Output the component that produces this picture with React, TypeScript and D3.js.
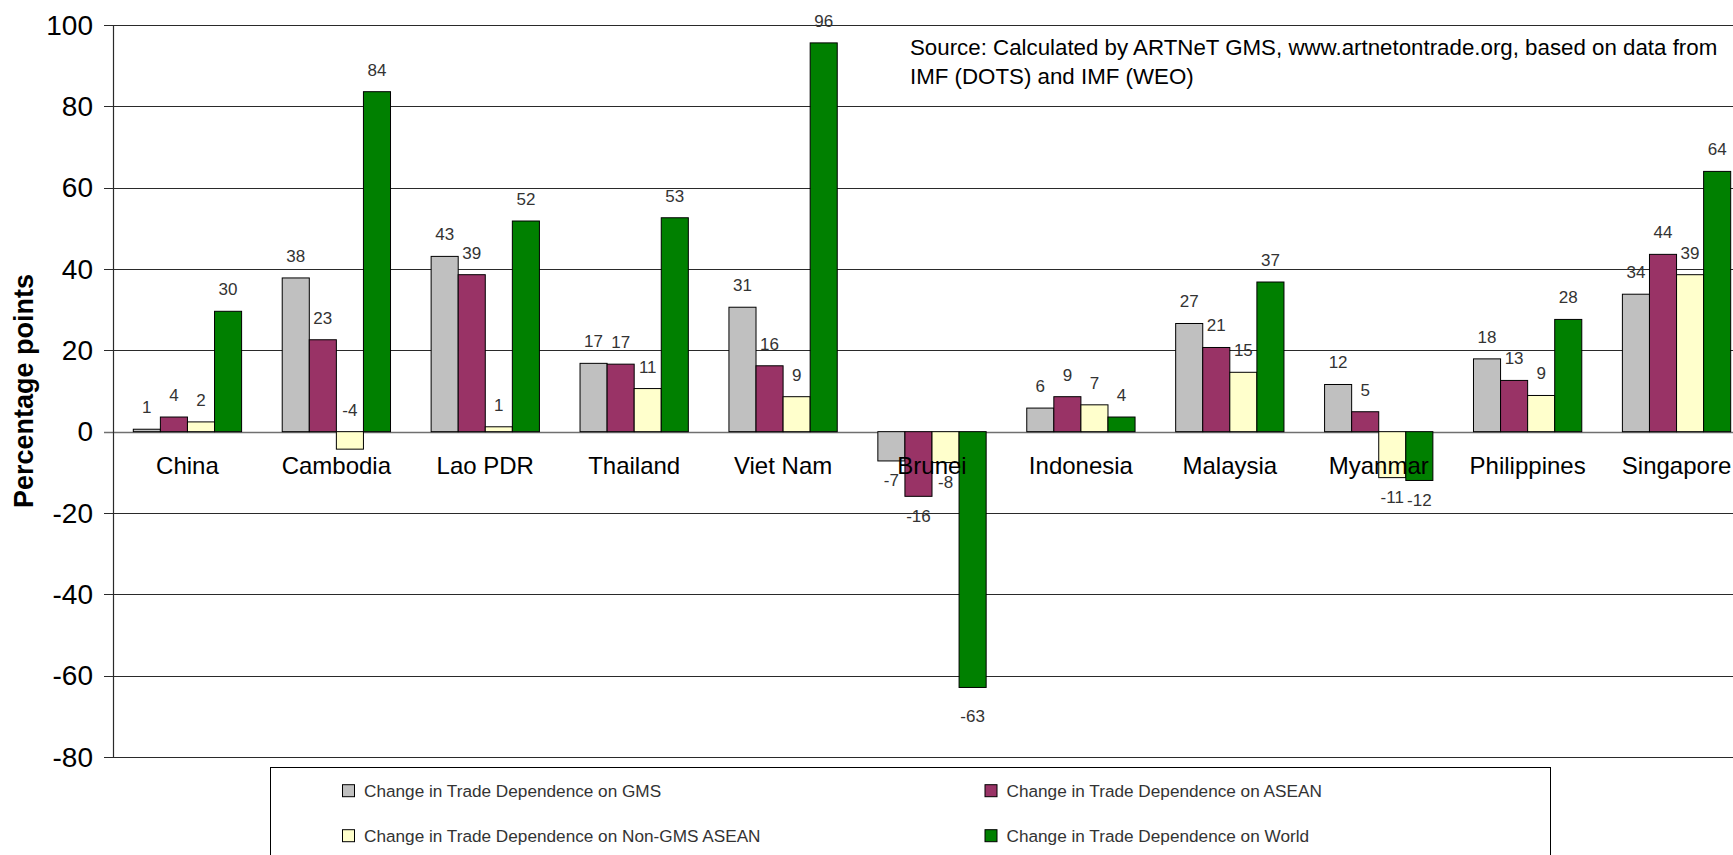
import React from "react";
import * as d3 from "d3";

const categories = ["China", "Cambodia", "Lao PDR", "Thailand", "Viet Nam", "Brunei", "Indonesia", "Malaysia", "Myanmar", "Philippines", "Singapore"];
const seriesNames = [
  "Change in Trade Dependence on GMS",
  "Change in Trade Dependence on ASEAN",
  "Change in Trade Dependence on Non-GMS ASEAN",
  "Change in Trade Dependence on World",
];
const gmsValues = [0.6, 37.8, 43.1, 16.8, 30.6, -7.2, 5.8, 26.6, 11.6, 17.9, 33.8];
const aseanValues = [3.6, 22.6, 38.6, 16.6, 16.2, -15.9, 8.6, 20.7, 4.9, 12.6, 43.6];
const nonGmsAseanValues = [2.4, -4.3, 1.2, 10.6, 8.6, -7.6, 6.6, 14.6, -11.3, 8.9, 38.6];
const worldValues = [29.6, 83.6, 51.8, 52.6, 95.6, -62.9, 3.6, 36.8, -12.0, 27.6, 64.0];
const seriesColors = ["#C0C0C0", "#993366", "#FFFFCC", "#008000"];
const yTicks = [100, 80, 60, 40, 20, 0, -20, -40, -60, -80];
const sourceLines = [
  "Source: Calculated by ARTNeT GMS, www.artnetontrade.org, based on data from",
  "IMF (DOTS) and IMF (WEO)",
];
const yTitle = "Percentage points";

const W = 1733;
const H = 855;
const FONT = "Arial, 'Liberation Sans', Helvetica, sans-serif";

export default function App() {
  const plotLeft = 113;
  const plotRight = 1751;
  const plotTop = 25;
  const plotBottom = 757;

  const allSeries = [gmsValues, aseanValues, nonGmsAseanValues, worldValues];

  const x0 = d3.scaleBand<string>().domain(categories).range([plotLeft, plotRight]).paddingInner(0).paddingOuter(0);
  const x1 = d3
    .scaleBand<number>()
    .domain([0, 1, 2, 3])
    .range([0, x0.bandwidth()])
    .paddingInner(0)
    .paddingOuter(0.75);
  const y = d3.scaleLinear().domain([-80, 100]).range([plotBottom, plotTop]);
  const fmtLabel = (v: number) => String(Math.round(v));

  // label nudges for manually moved labels in the original
  const labelAbove = (ci: number, si: number) => ci === 1 && si === 2;
  const extraDown = (ci: number, si: number) => (ci === 5 && si === 3 ? 9 : 0);

  const bars: React.ReactNode[] = [];
  const labels: React.ReactNode[] = [];
  categories.forEach((c, ci) => {
    allSeries.forEach((vals, si) => {
      const v = vals[ci];
      const bx = (x0(c) as number) + (x1(si) as number);
      const bw = x1.bandwidth();
      const yTop = y(Math.max(0, v));
      const yBot = y(Math.min(0, v));
      bars.push(
        <rect
          key={`b-${ci}-${si}`}
          x={bx}
          y={yTop}
          width={bw}
          height={Math.max(0.5, yBot - yTop)}
          fill={seriesColors[si]}
          stroke="#000"
          strokeWidth={1}
        />
      );
      let ly: number;
      if (v >= 0 || labelAbove(ci, si)) ly = yTop - 21.5;
      else ly = yBot + 20 + extraDown(ci, si);
      labels.push(
        <text
          key={`l-${ci}-${si}`}
          x={bx + bw / 2}
          y={ly}
          textAnchor="middle"
          dominantBaseline="central"
          fontSize={17}
          fill="#333"
          fontFamily={FONT}
        >
          {fmtLabel(v)}
        </text>
      );
    });
  });

  const legendX = 270.5;
  const legendY = 767.5;
  const legendW = 1280;
  const colX = [342.5, 985];
  const rowY = [790.7, 835.7];

  return (
    <svg
      width={W}
      height={H}
      style={{ position: "absolute", left: 0, top: 0, background: "#fff", display: "block" }}
      fontFamily={FONT}
    >
      <rect x={0} y={0} width={W} height={H} fill="#fff" />
      {/* gridlines and ticks */}
      {yTicks.map((t) => (
        <g key={`g-${t}`}>
          <line
            x1={104}
            x2={plotRight}
            y1={Math.round(y(t)) + 0.5}
            y2={Math.round(y(t)) + 0.5}
            stroke={t === 0 ? "#707070" : "#2a2a2a"}
            strokeWidth={t === 0 ? 1.6 : 1.2}
          />
          <text
            x={93}
            y={y(t)}
            textAnchor="end"
            dominantBaseline="central"
            fontSize={28}
            fill="#000"
          >
            {t}
          </text>
        </g>
      ))}
      <line x1={plotLeft + 0.5} x2={plotLeft + 0.5} y1={plotTop} y2={plotBottom} stroke="#2a2a2a" strokeWidth={1.2} />
      {/* source */}
      {sourceLines.map((s, i) => (
        <text key={`s-${i}`} x={910} y={55 + i * 28.5} fontSize={22.3} fill="#000">
          {s}
        </text>
      ))}
      {bars}
      {/* category labels */}
      {categories.map((c) => (
        <text
          key={`c-${c}`}
          x={(x0(c) as number) + x0.bandwidth() / 2}
          y={474}
          textAnchor="middle"
          fontSize={24}
          fill="#000"
        >
          {c}
        </text>
      ))}
      {labels}
      {/* y title */}
      <text
        transform={`translate(33,${(plotTop + plotBottom) / 2}) rotate(-90)`}
        textAnchor="middle"
        fontSize={27}
        fontWeight="bold"
        fill="#000"
      >
        {yTitle}
      </text>
      {/* legend */}
      <rect x={legendX} y={legendY} width={legendW} height={120} fill="#fff" stroke="#000" strokeWidth={1} />
      {seriesNames.map((n, i) => {
        const cx = colX[i % 2];
        const cy = rowY[Math.floor(i / 2)];
        return (
          <g key={`lg-${i}`}>
            <rect x={cx} y={cy - 6} width={12} height={12} fill={seriesColors[i]} stroke="#000" strokeWidth={1} />
            <text x={cx + 21.5} y={cy} dominantBaseline="central" fontSize={17.2} fill="#333">
              {n}
            </text>
          </g>
        );
      })}
    </svg>
  );
}
